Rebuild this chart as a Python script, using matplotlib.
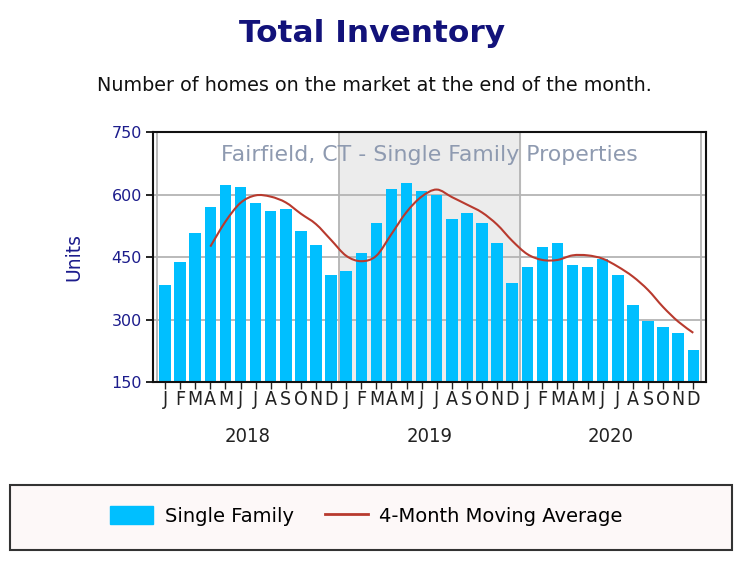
import numpy as np
import matplotlib
matplotlib.use("Agg")
import matplotlib.pyplot as plt
from matplotlib.path import Path
from matplotlib.patches import PathPatch, Rectangle
from matplotlib.lines import Line2D

# Monthly inventory, Jan 2018 - Dec 2020
months = ["J", "F", "M", "A", "M", "J", "J", "A", "S", "O", "N", "D"] * 3
years = ["2018", "2019", "2020"]
inventory = [383, 439, 507, 570, 623, 618, 580, 560, 565, 512, 479, 406,
             416, 459, 531, 613, 628, 609, 599, 541, 555, 532, 483, 387,
             426, 474, 483, 431, 426, 445, 407, 334, 297, 281, 267, 228]
# 4-month moving average, starts in April 2018
ma_start = 3
moving_avg = [475, 535, 580, 598, 595, 581, 554, 529, 491, 453, 440, 453,
              505, 558, 595, 612, 594, 576, 557, 528, 489, 457, 443, 443,
              454, 454, 446, 427, 403, 371, 330, 295, 268]

bar_color = "#00bfff"
line_color = "#b83a2e"
navy = "#1c1c8c"

fig = plt.figure(figsize=(7.48, 5.62), dpi=100)
ax = fig.add_axes([0.2045, 0.3203, 0.7395, 0.4447])

x = np.arange(len(inventory)) + 0.5
ax.axvspan(12, 24, color="#ececec", zorder=0)
for yv in [300, 450, 600]:
    ax.axhline(yv, color="#b4b4b4", lw=1.3, zorder=1)
for xv in [0, 12, 24, 36]:
    ax.axvline(xv, color="#b4b4b4", lw=1.3, zorder=1)

ax.bar(x, inventory, width=0.76, color=bar_color, zorder=2)

# smooth curve through the moving-average points (Catmull-Rom -> Bezier)
mx = x[ma_start:]
my = np.array(moving_avg, dtype=float)
pts = np.column_stack([mx, my])
verts = [pts[0]]
codes = [Path.MOVETO]
for i in range(len(pts) - 1):
    p0 = pts[i - 1] if i > 0 else pts[i]
    p1 = pts[i]
    p2 = pts[i + 1]
    p3 = pts[i + 2] if i + 2 < len(pts) else pts[i + 1]
    c1 = p1 + (p2 - p0) / 6.0
    c2 = p2 - (p3 - p1) / 6.0
    verts += [c1, c2, p2]
    codes += [Path.CURVE4] * 3
ax.add_patch(PathPatch(Path(verts, codes), fill=False, edgecolor=line_color,
                       lw=1.5, zorder=3))

ax.set_xlim(-0.3, 36.35)
ax.set_ylim(150, 750)
ax.set_yticks([150, 300, 450, 600, 750])
ax.tick_params(axis="y", labelsize=11.5, labelcolor=navy, length=5, width=1.2, pad=3)
ax.set_xticks(x)
ax.set_xticklabels(months, fontsize=14, fontstretch="condensed")
ax.tick_params(axis="x", length=5, width=1, pad=0.5, colors="#222222")
ax.set_ylabel("Units", fontsize=13.5, color=navy, labelpad=20)
for s in ax.spines.values():
    s.set_linewidth(1.5)
    s.set_color("#111111")

for k, yr in enumerate(years):
    ax.text(6 + 12 * k, -0.22, yr, transform=ax.get_xaxis_transform(),
            ha="center", va="center", fontsize=14.5, color="#222222",
            fontstretch="condensed")

ax.text(0.5, 0.91, "Fairfield, CT - Single Family Properties", transform=ax.transAxes,
        ha="center", va="center", fontsize=15.8, color="#8e9ab0", zorder=4)

fig.text(0.497, 0.94, "Total Inventory", ha="center", va="center",
         fontsize=22.5, fontweight="bold", color="#12127a")
fig.text(0.501, 0.848, "Number of homes on the market at the end of the month.",
         ha="center", va="center", fontsize=13.8, color="#111111")

# legend box
fig.patches.append(Rectangle((10 / 748, 1 - 550 / 562), 722 / 748, 65 / 562,
                             transform=fig.transFigure, facecolor="#fdf8f8",
                             edgecolor="#333333", lw=1.5, zorder=0))
handles = [Rectangle((0, 0), 1, 1, color=bar_color),
           Line2D([0], [0], color=line_color, lw=2)]
fig.legend(handles, ["Single Family", "4-Month Moving Average"], loc="center",
           bbox_to_anchor=(0.49, 1 - 516 / 562), ncol=2, frameon=False,
           prop={"size": 14}, handlelength=2.2,
           handleheight=1.0, columnspacing=1.6, handletextpad=0.6)

fig.savefig("out.png", dpi=100)
